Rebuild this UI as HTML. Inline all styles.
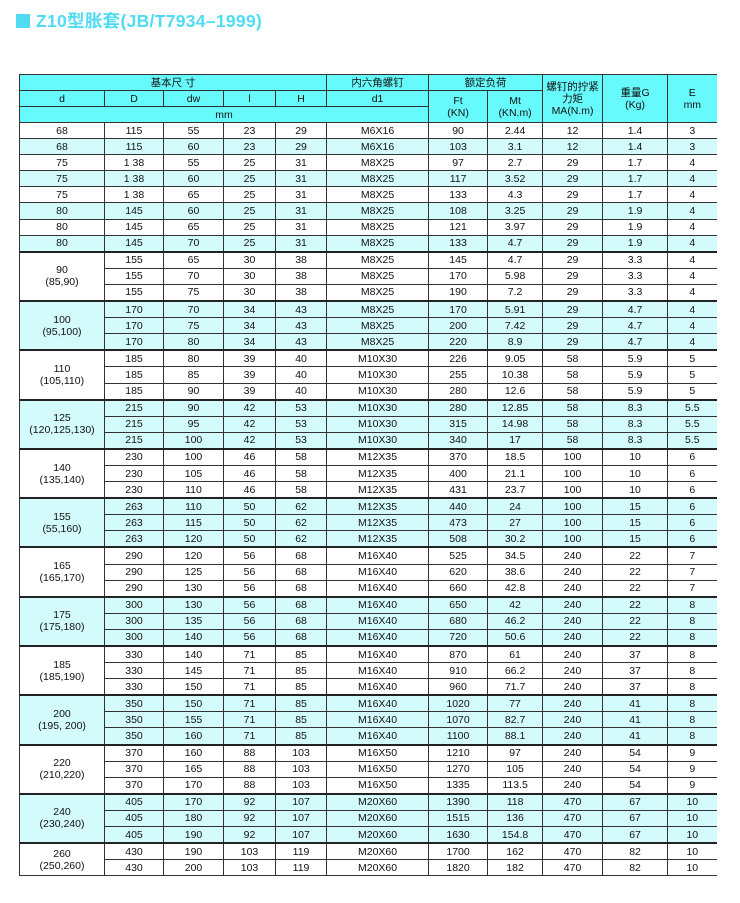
<!DOCTYPE html>
<html><head><meta charset="utf-8">
<style>
body{margin:0;background:#fff;width:740px;height:903px;position:relative;overflow:hidden;font-family:"Liberation Sans","Noto Sans CJK SC",sans-serif;}
.title{position:absolute;left:16px;top:8px;font-size:17.5px;font-weight:bold;color:#4fdcf2;letter-spacing:0.3px;}
.title span{display:inline-block;width:14px;height:14px;background:#4fdcf2;margin-right:6px;vertical-align:-1px;}
table{position:absolute;left:19px;top:74px;width:697px;border-collapse:collapse;table-layout:fixed;font-size:10.5px;color:#111;}
td{border:1px solid #333;text-align:center;padding:0;height:15.1px;line-height:12px;overflow:hidden;white-space:nowrap;}
td:last-child{border-right:none;}
.h td{background:#66fafc;height:15px;}
.c td{background:#d4fbfb;}
tr.g td{border-top:2px solid #222;}
</style></head><body>
<div class="title"><span></span>Z10型胀套(JB/T7934–1999)</div>
<table>
<colgroup><col style="width:85px"><col style="width:59px"><col style="width:60px"><col style="width:52px"><col style="width:51px"><col style="width:102px"><col style="width:59px"><col style="width:55px"><col style="width:60px"><col style="width:65px"><col style="width:49px"></colgroup>
<tr class="h"><td colspan="5">基本尺 寸</td><td>内六角螺钉</td><td colspan="2">额定负荷</td><td rowspan="3" style="white-space:normal">螺钉的拧紧<br>力矩<br>MA(N.m)</td><td rowspan="3">重量G<br>(Kg)</td><td rowspan="3">E<br>mm</td></tr>
<tr class="h"><td>d</td><td>D</td><td>dw</td><td>l</td><td>H</td><td>d1</td><td rowspan="2">Ft<br>(KN)</td><td rowspan="2">Mt<br>(KN.m)</td></tr>
<tr class="h"><td colspan="6">mm</td></tr>
<tr><td>68</td><td>115</td><td>55</td><td>23</td><td>29</td><td>M6X16</td><td>90</td><td>2.44</td><td>12</td><td>1.4</td><td>3</td></tr>
<tr class="c"><td>68</td><td>115</td><td>60</td><td>23</td><td>29</td><td>M6X16</td><td>103</td><td>3.1</td><td>12</td><td>1.4</td><td>3</td></tr>
<tr><td>75</td><td>1 38</td><td>55</td><td>25</td><td>31</td><td>M8X25</td><td>97</td><td>2.7</td><td>29</td><td>1.7</td><td>4</td></tr>
<tr class="c"><td>75</td><td>1 38</td><td>60</td><td>25</td><td>31</td><td>M8X25</td><td>117</td><td>3.52</td><td>29</td><td>1.7</td><td>4</td></tr>
<tr><td>75</td><td>1 38</td><td>65</td><td>25</td><td>31</td><td>M8X25</td><td>133</td><td>4.3</td><td>29</td><td>1.7</td><td>4</td></tr>
<tr class="c"><td>80</td><td>145</td><td>60</td><td>25</td><td>31</td><td>M8X25</td><td>108</td><td>3.25</td><td>29</td><td>1.9</td><td>4</td></tr>
<tr><td>80</td><td>145</td><td>65</td><td>25</td><td>31</td><td>M8X25</td><td>121</td><td>3.97</td><td>29</td><td>1.9</td><td>4</td></tr>
<tr class="c"><td>80</td><td>145</td><td>70</td><td>25</td><td>31</td><td>M8X25</td><td>133</td><td>4.7</td><td>29</td><td>1.9</td><td>4</td></tr>
<tr class="g"><td rowspan="3">90<br>(85,90)</td><td>155</td><td>65</td><td>30</td><td>38</td><td>M8X25</td><td>145</td><td>4.7</td><td>29</td><td>3.3</td><td>4</td></tr>
<tr><td>155</td><td>70</td><td>30</td><td>38</td><td>M8X25</td><td>170</td><td>5.98</td><td>29</td><td>3.3</td><td>4</td></tr>
<tr><td>155</td><td>75</td><td>30</td><td>38</td><td>M8X25</td><td>190</td><td>7.2</td><td>29</td><td>3.3</td><td>4</td></tr>
<tr class="c g"><td rowspan="3">100<br>(95,100)</td><td>170</td><td>70</td><td>34</td><td>43</td><td>M8X25</td><td>170</td><td>5.91</td><td>29</td><td>4.7</td><td>4</td></tr>
<tr class="c"><td>170</td><td>75</td><td>34</td><td>43</td><td>M8X25</td><td>200</td><td>7.42</td><td>29</td><td>4.7</td><td>4</td></tr>
<tr class="c"><td>170</td><td>80</td><td>34</td><td>43</td><td>M8X25</td><td>220</td><td>8.9</td><td>29</td><td>4.7</td><td>4</td></tr>
<tr class="g"><td rowspan="3">110<br>(105,110)</td><td>185</td><td>80</td><td>39</td><td>40</td><td>M10X30</td><td>226</td><td>9.05</td><td>58</td><td>5.9</td><td>5</td></tr>
<tr><td>185</td><td>85</td><td>39</td><td>40</td><td>M10X30</td><td>255</td><td>10.38</td><td>58</td><td>5.9</td><td>5</td></tr>
<tr><td>185</td><td>90</td><td>39</td><td>40</td><td>M10X30</td><td>280</td><td>12.6</td><td>58</td><td>5.9</td><td>5</td></tr>
<tr class="c g"><td rowspan="3">125<br>(120,125,130)</td><td>215</td><td>90</td><td>42</td><td>53</td><td>M10X30</td><td>280</td><td>12.85</td><td>58</td><td>8.3</td><td>5.5</td></tr>
<tr class="c"><td>215</td><td>95</td><td>42</td><td>53</td><td>M10X30</td><td>315</td><td>14.98</td><td>58</td><td>8.3</td><td>5.5</td></tr>
<tr class="c"><td>215</td><td>100</td><td>42</td><td>53</td><td>M10X30</td><td>340</td><td>17</td><td>58</td><td>8.3</td><td>5.5</td></tr>
<tr class="g"><td rowspan="3">140<br>(135,140)</td><td>230</td><td>100</td><td>46</td><td>58</td><td>M12X35</td><td>370</td><td>18.5</td><td>100</td><td>10</td><td>6</td></tr>
<tr><td>230</td><td>105</td><td>46</td><td>58</td><td>M12X35</td><td>400</td><td>21.1</td><td>100</td><td>10</td><td>6</td></tr>
<tr><td>230</td><td>110</td><td>46</td><td>58</td><td>M12X35</td><td>431</td><td>23.7</td><td>100</td><td>10</td><td>6</td></tr>
<tr class="c g"><td rowspan="3">155<br>(55,160)</td><td>263</td><td>110</td><td>50</td><td>62</td><td>M12X35</td><td>440</td><td>24</td><td>100</td><td>15</td><td>6</td></tr>
<tr class="c"><td>263</td><td>115</td><td>50</td><td>62</td><td>M12X35</td><td>473</td><td>27</td><td>100</td><td>15</td><td>6</td></tr>
<tr class="c"><td>263</td><td>120</td><td>50</td><td>62</td><td>M12X35</td><td>508</td><td>30.2</td><td>100</td><td>15</td><td>6</td></tr>
<tr class="g"><td rowspan="3">165<br>(165,170)</td><td>290</td><td>120</td><td>56</td><td>68</td><td>M16X40</td><td>525</td><td>34.5</td><td>240</td><td>22</td><td>7</td></tr>
<tr><td>290</td><td>125</td><td>56</td><td>68</td><td>M16X40</td><td>620</td><td>38.6</td><td>240</td><td>22</td><td>7</td></tr>
<tr><td>290</td><td>130</td><td>56</td><td>68</td><td>M16X40</td><td>660</td><td>42.8</td><td>240</td><td>22</td><td>7</td></tr>
<tr class="c g"><td rowspan="3">175<br>(175,180)</td><td>300</td><td>130</td><td>56</td><td>68</td><td>M16X40</td><td>650</td><td>42</td><td>240</td><td>22</td><td>8</td></tr>
<tr class="c"><td>300</td><td>135</td><td>56</td><td>68</td><td>M16X40</td><td>680</td><td>46.2</td><td>240</td><td>22</td><td>8</td></tr>
<tr class="c"><td>300</td><td>140</td><td>56</td><td>68</td><td>M16X40</td><td>720</td><td>50.6</td><td>240</td><td>22</td><td>8</td></tr>
<tr class="g"><td rowspan="3">185<br>(185,190)</td><td>330</td><td>140</td><td>71</td><td>85</td><td>M16X40</td><td>870</td><td>61</td><td>240</td><td>37</td><td>8</td></tr>
<tr><td>330</td><td>145</td><td>71</td><td>85</td><td>M16X40</td><td>910</td><td>66.2</td><td>240</td><td>37</td><td>8</td></tr>
<tr><td>330</td><td>150</td><td>71</td><td>85</td><td>M16X40</td><td>960</td><td>71.7</td><td>240</td><td>37</td><td>8</td></tr>
<tr class="c g"><td rowspan="3">200<br>(195, 200)</td><td>350</td><td>150</td><td>71</td><td>85</td><td>M16X40</td><td>1020</td><td>77</td><td>240</td><td>41</td><td>8</td></tr>
<tr class="c"><td>350</td><td>155</td><td>71</td><td>85</td><td>M16X40</td><td>1070</td><td>82.7</td><td>240</td><td>41</td><td>8</td></tr>
<tr class="c"><td>350</td><td>160</td><td>71</td><td>85</td><td>M16X40</td><td>1100</td><td>88.1</td><td>240</td><td>41</td><td>8</td></tr>
<tr class="g"><td rowspan="3">220<br>(210,220)</td><td>370</td><td>160</td><td>88</td><td>103</td><td>M16X50</td><td>1210</td><td>97</td><td>240</td><td>54</td><td>9</td></tr>
<tr><td>370</td><td>165</td><td>88</td><td>103</td><td>M16X50</td><td>1270</td><td>105</td><td>240</td><td>54</td><td>9</td></tr>
<tr><td>370</td><td>170</td><td>88</td><td>103</td><td>M16X50</td><td>1335</td><td>113.5</td><td>240</td><td>54</td><td>9</td></tr>
<tr class="c g"><td rowspan="3">240<br>(230,240)</td><td>405</td><td>170</td><td>92</td><td>107</td><td>M20X60</td><td>1390</td><td>118</td><td>470</td><td>67</td><td>10</td></tr>
<tr class="c"><td>405</td><td>180</td><td>92</td><td>107</td><td>M20X60</td><td>1515</td><td>136</td><td>470</td><td>67</td><td>10</td></tr>
<tr class="c"><td>405</td><td>190</td><td>92</td><td>107</td><td>M20X60</td><td>1630</td><td>154.8</td><td>470</td><td>67</td><td>10</td></tr>
<tr class="g"><td rowspan="2">260<br>(250,260)</td><td>430</td><td>190</td><td>103</td><td>119</td><td>M20X60</td><td>1700</td><td>162</td><td>470</td><td>82</td><td>10</td></tr>
<tr><td>430</td><td>200</td><td>103</td><td>119</td><td>M20X60</td><td>1820</td><td>182</td><td>470</td><td>82</td><td>10</td></tr>
</table>
</body></html>
